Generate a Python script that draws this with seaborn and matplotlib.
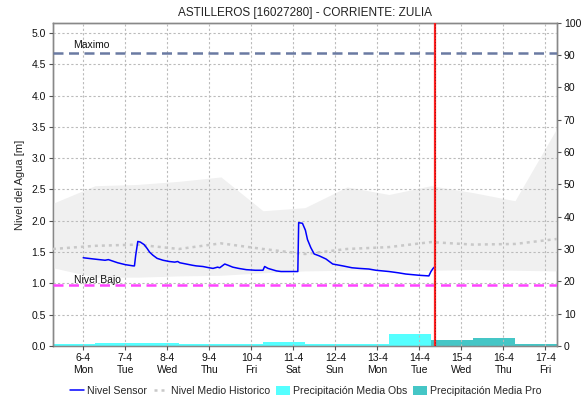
import numpy as np
import pandas as pd
import matplotlib
matplotlib.use("Agg")
import matplotlib.pyplot as plt
import seaborn as sns
from matplotlib.patches import Patch
from matplotlib.lines import Line2D

# ---------------- data ----------------
title = "ASTILLEROS [16027280] - CORRIENTE: ZULIA"
tick_days = list(range(12))
tick_labels = ["6-4\nMon", "7-4\nTue", "8-4\nWed", "9-4\nThu", "10-4\nFri", "11-4\nSat",
               "12-4\nSun", "13-4\nMon", "14-4\nTue", "15-4\nWed", "16-4\nThu", "17-4\nFri"]

# sensor level (days since 6-4 00:00, metres)
sensor_t = [0.00, 0.25, 0.52, 0.60, 0.82, 1.00, 1.19, 1.22, 1.25, 1.30, 1.36, 1.45, 1.52,
            1.58, 1.66, 1.76, 1.90, 2.05, 2.18, 2.25, 2.30, 2.45, 2.60, 2.69, 2.85, 3.00,
            3.09, 3.20, 3.25, 3.37, 3.45, 3.56, 3.70, 3.88, 4.10, 4.28, 4.32, 4.40, 4.50,
            4.60, 4.71, 5.11, 5.13, 5.22, 5.29, 5.34, 5.42, 5.50, 5.62, 5.78, 5.94, 6.18,
            6.40, 6.57, 6.80, 6.97, 7.28, 7.50, 7.68, 8.00, 8.23, 8.28, 8.33, 8.36]
sensor_v = [1.41, 1.39, 1.37, 1.38, 1.33, 1.30, 1.28, 1.28, 1.45, 1.67, 1.66, 1.62, 1.56,
            1.50, 1.45, 1.40, 1.37, 1.35, 1.34, 1.35, 1.33, 1.31, 1.29, 1.28, 1.27, 1.25,
            1.24, 1.26, 1.25, 1.31, 1.29, 1.26, 1.24, 1.22, 1.21, 1.21, 1.27, 1.24, 1.22,
            1.20, 1.19, 1.19, 1.97, 1.96, 1.85, 1.70, 1.57, 1.47, 1.44, 1.39, 1.31, 1.28,
            1.25, 1.24, 1.23, 1.21, 1.19, 1.17, 1.15, 1.13, 1.12, 1.19, 1.24, 1.26]

# historical (daily)
hist_t = [-0.72, 0.28, 1.28, 2.28, 3.28, 4.28, 5.28, 6.28, 7.28, 8.28, 9.28, 10.28, 11.28]
hist_upper = [2.28, 2.56, 2.58, 2.63, 2.70, 2.16, 2.21, 2.54, 2.42, 2.56, 2.45, 2.32, 3.48]
hist_lower = [1.25, 1.10, 1.10, 1.12, 1.13, 1.17, 1.20, 1.21, 1.21, 1.21, 1.22, 1.21, 1.20]
hist_median = [1.55, 1.60, 1.62, 1.55, 1.64, 1.55, 1.47, 1.55, 1.58, 1.66, 1.62, 1.63, 1.71]

# precipitation (right axis, daily intervals starting at given day)
obs_start = [-0.72, 0.28, 1.28, 2.28, 3.28, 4.28, 5.28, 6.28, 7.28]
obs_value = [0.5, 0.8, 0.8, 0.5, 0.5, 1.3, 0.6, 0.6, 3.7]
pro_start = [8.28, 9.28, 10.28]
pro_value = [1.9, 2.6, 0.5]

nivel_maximo = 4.68
nivel_bajo = 0.97
now_day = 8.38

# ---------------- figure ----------------
sns.set_theme(style="white")
plt.rcParams["font.family"] = ["Liberation Sans", "DejaVu Sans"]
plt.rcParams["font.size"] = 8

fig = plt.figure(figsize=(5.82, 4.01), dpi=100)
ax = fig.add_axes([0.091, 0.137, 0.866, 0.806])
ax2 = ax.twinx()
ax.set_zorder(ax2.get_zorder() + 1)
ax.patch.set_visible(False)

# precipitation bars via seaborn histplot (weights)
obs_df = pd.DataFrame({"t": [s + 0.5 for s in obs_start], "v": obs_value})
pro_df = pd.DataFrame({"t": [s + 0.5 for s in pro_start], "v": pro_value})
sns.histplot(data=pro_df, x="t", weights="v", bins=[s for s in pro_start] + [pro_start[-1] + 1],
             color="#45C6C6", alpha=1, linewidth=0, ax=ax2)
sns.histplot(data=obs_df, x="t", weights="v", bins=[s for s in obs_start] + [obs_start[-1] + 1],
             color="#55FFFF", alpha=1, linewidth=0, ax=ax2)
ax2.set_ylim(0, 100)
ax2.set_yticks(range(0, 101, 10))
ax2.set_ylabel("")
ax2.grid(False)

# historical band
ax.fill_between(hist_t, hist_lower, hist_upper, color="#F0F0F0", linewidth=0, zorder=1)
hist_df = pd.DataFrame({"t": hist_t, "v": hist_median})
sns.lineplot(data=hist_df, x="t", y="v", ax=ax, color="#C8C8C8", linewidth=1.8,
             linestyle=(0, (1.2, 1.6)), zorder=3)

# grid
ax.set_xlim(-0.72, 11.28)
ax.set_ylim(0, 5.16)
ax.set_yticks(np.arange(0, 5.01, 0.5))
ax.set_yticklabels([f"{v:.1f}" for v in np.arange(0, 5.01, 0.5)])
ax.set_xticks(tick_days)
ax.set_xticklabels(tick_labels)
ax.grid(True, color="#BBBBBB", linestyle=(0, (2, 2)), linewidth=0.8)
ax.set_axisbelow(False)
for gl in ax.get_xgridlines() + ax.get_ygridlines():
    gl.set_zorder(2)

# thresholds
ax.axhline(nivel_maximo, color="#6A7AA2", linewidth=1.8, linestyle=(0, (4, 2.2)), zorder=4)
ax.axhline(nivel_bajo, color="#FF44FF", linewidth=1.8, linestyle=(0, (4, 2.2)), zorder=4)
ax.text(-0.25, nivel_maximo + 0.04, "Maximo", fontsize=7.5, color="#111111", va="bottom", ha="left")
ax.text(-0.22, nivel_bajo + 0.01, "Nivel Bajo", fontsize=7.5, color="#111111", va="bottom", ha="left")

# sensor
sens_df = pd.DataFrame({"t": sensor_t, "v": sensor_v})
sns.lineplot(data=sens_df, x="t", y="v", ax=ax, color="#0000FF", linewidth=1.1, zorder=5)

# now line
ax.axvline(now_day, color="#FF2020", linewidth=1.6, zorder=6)
ax.axvline(now_day, color="#A01010", linewidth=0.6, linestyle=(0, (1.5, 2)), zorder=7)

ax.set_xlabel("")
ax.set_ylabel("Nivel del Agua [m]", fontsize=8, labelpad=5)
ax.set_title(title, fontsize=8.5, color="#222222", pad=5)

for a in (ax, ax2):
    for s in a.spines.values():
        s.set_color("#888888")
        s.set_linewidth(1.0)
ax.spines["bottom"].set_linewidth(0.8)
ax.tick_params(axis="both", labelsize=7.5, length=3, width=0.8, color="#555555", pad=2,
               left=True, bottom=True, labelcolor="#111111")
ax2.tick_params(axis="y", labelsize=7.5, length=3, width=0.8, color="#555555", pad=2,
                right=True, labelcolor="#111111")

handles = [Line2D([], [], color="#0000FF", linewidth=1.1),
           Line2D([], [], color="#C8C8C8", linewidth=1.8, linestyle=(0, (1.2, 1.6))),
           Patch(facecolor="#55FFFF", edgecolor="none"),
           Patch(facecolor="#45C6C6", edgecolor="none")]
labels = ["Nivel Sensor", "Nivel Medio Historico", "Precipitación Media Obs", "Precipitación Media Pro"]
fig.legend(handles, labels, loc="center", bbox_to_anchor=(0.526, 0.025), ncol=4, frameon=False,
           fontsize=7.6, handlelength=1.3, handletextpad=0.3, columnspacing=0.6,
           handleheight=1.0, borderaxespad=0, borderpad=0)

fig.savefig("out.png", dpi=100)
